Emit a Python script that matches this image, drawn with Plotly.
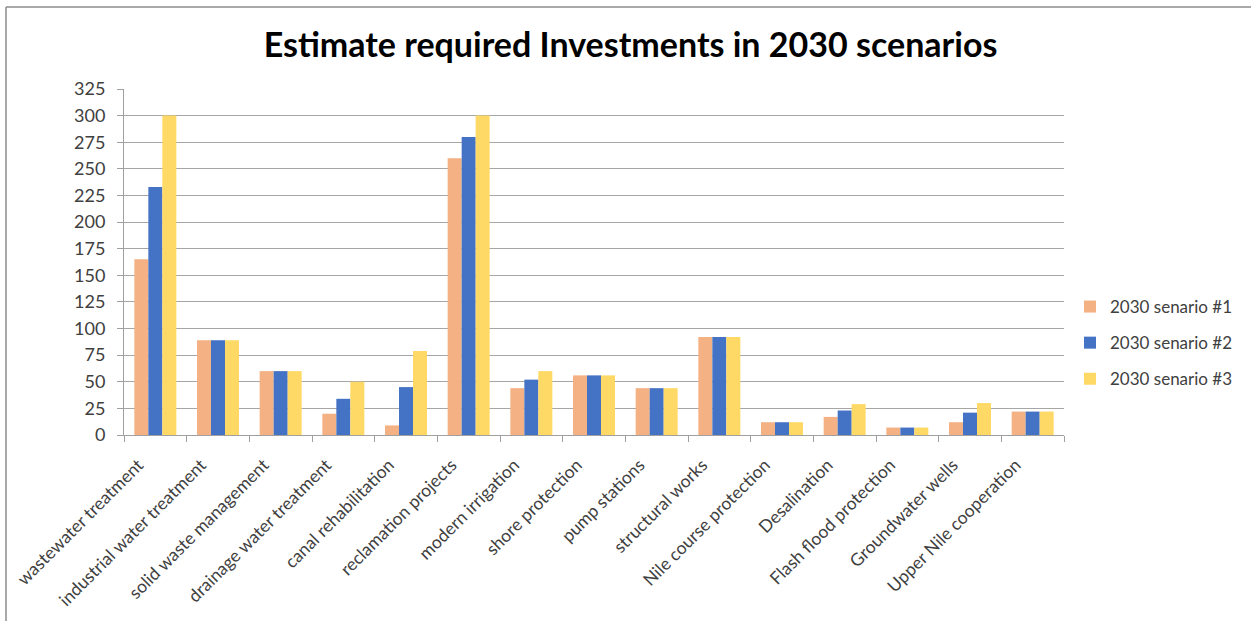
import plotly.graph_objects as go

categories = [
    "wastewater treatment", "industrial water treatment", "solid waste management",
    "drainage water treatment", "canal rehabilitation", "reclamation projects",
    "modern irrigation", "shore protection", "pump stations", "structural works",
    "Nile course protection", "Desalination", "Flash flood protection",
    "Groundwater wells", "Upper Nile cooperation",
]
scenario_1 = [165, 89, 60, 20, 9, 260, 44, 56, 44, 92, 12, 17, 7, 12, 22]
scenario_2 = [233, 89, 60, 34, 45, 280, 52, 56, 44, 92, 12, 23, 7, 21, 22]
scenario_3 = [300, 89, 60, 50, 79, 300, 60, 56, 44, 92, 12, 29, 7, 30, 22]
series_names = ["2030 senario #1", "2030 senario #2", "2030 senario #3"]
y_ticks = list(range(0, 326, 25))

colors = ["#F4B183", "#4472C4", "#FFD966"]
FONT = "Lato"

fig = go.Figure()
for name, vals, col in zip(series_names, [scenario_1, scenario_2, scenario_3], colors):
    fig.add_trace(go.Bar(
        x=categories, y=vals, name=name, legendgroup=name,
        marker=dict(color=col, line=dict(width=0)),
    ))

# plot area in pixels: left 124, right 1064, top 89, bottom 435
L, R, T, B = 124, 187, 89, 186
W, H = 1251, 621
pw, ph = W - L - R, H - T - B

def px_x(x):
    return (x - L) / pw

def px_y(y):
    return 1 - (y - T) / ph

fig.update_layout(
    width=W, height=H,
    margin=dict(l=L, r=R, t=T, b=B, pad=0, autoexpand=False),
    paper_bgcolor="white", plot_bgcolor="white",
    barmode="group", bargap=0.33, bargroupgap=0,
    font=dict(family=FONT, size=18, color="#404040"),
    title=dict(
        text="<b>Estimate required Investments in 2030 scenarios</b>",
        x=0.504, xanchor="center", y=1 - 45 / H, yanchor="middle",
        font=dict(family=FONT, size=34, color="black"),
    ),
    xaxis=dict(
        type="category", tickson="boundaries", ticks="outside", ticklen=6,
        tickcolor="#a0a0a0", showgrid=False, showline=True, linecolor="#a0a0a0",
        tickangle=-45, tickfont=dict(size=17.5, color="#404040"), range=[-0.5, 14.5],
        ticklabelshift=-17, ticklabelstandoff=12, automargin=False,
    ),
    yaxis=dict(
        range=[0, 325], tickvals=y_ticks, ticks="outside", ticklen=6,
        tickcolor="#a0a0a0", showgrid=True, gridcolor="#a6a6a6", gridwidth=1,
        showline=True, linecolor="#a0a0a0", zeroline=False, automargin=False,
        tickfont=dict(size=18, color="#404040"), ticklabelstandoff=8,
    ),
    legend=dict(
        x=px_x(1070), xanchor="left", y=px_y(343), yanchor="middle",
        font=dict(size=17, color="#404040"), tracegroupgap=11,
        traceorder="grouped", itemwidth=30,
    ),
    shapes=[
        dict(type="line", xref="paper", yref="paper",
             x0=px_x(6), x1=px_x(1251), y0=px_y(7), y1=px_y(7),
             line=dict(color="#8c8c8c", width=1.5)),
        dict(type="line", xref="paper", yref="paper",
             x0=px_x(6), x1=px_x(6), y0=px_y(7), y1=px_y(621),
             line=dict(color="#8c8c8c", width=1.5)),
    ],
)

fig.write_html("out.html")
